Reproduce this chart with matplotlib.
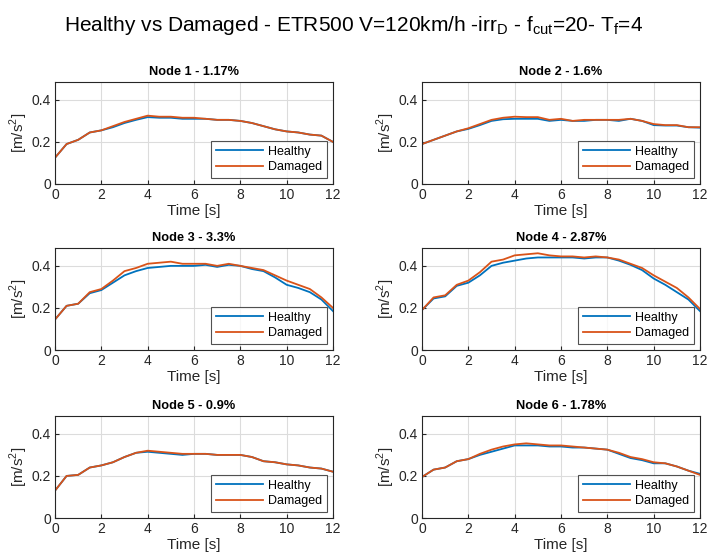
import matplotlib
matplotlib.use("Agg")
import matplotlib.pyplot as plt
import numpy as np

plt.rcParams['font.family'] = ['Liberation Sans', 'DejaVu Sans']
plt.rcParams['mathtext.fontset'] = 'custom'
plt.rcParams['mathtext.rm'] = 'Liberation Sans'

# time axis [s]
t = np.arange(0, 12.01, 0.5)

titles = ["Node 1 - 1.17%", "Node 2 - 1.6%", "Node 3 - 3.3%",
          "Node 4 - 2.87%", "Node 5 - 0.9%", "Node 6 - 1.78%"]

healthy_1 = [0.125, 0.19, 0.21, 0.245, 0.255, 0.27, 0.29, 0.305, 0.318, 0.315, 0.315, 0.31, 0.31,
             0.31, 0.305, 0.305, 0.30, 0.29, 0.275, 0.26, 0.25, 0.245, 0.235, 0.23, 0.20]
damaged_1 = [0.125, 0.19, 0.21, 0.245, 0.255, 0.275, 0.295, 0.31, 0.325, 0.32, 0.32, 0.315, 0.315,
             0.31, 0.305, 0.305, 0.30, 0.29, 0.275, 0.26, 0.25, 0.245, 0.235, 0.23, 0.20]

healthy_2 = [0.19, 0.21, 0.23, 0.25, 0.262, 0.28, 0.30, 0.308, 0.31, 0.31, 0.31, 0.30, 0.305,
             0.30, 0.30, 0.305, 0.305, 0.30, 0.31, 0.30, 0.28, 0.278, 0.278, 0.27, 0.268]
damaged_2 = [0.19, 0.21, 0.23, 0.25, 0.265, 0.285, 0.305, 0.315, 0.32, 0.318, 0.318, 0.305, 0.31,
             0.30, 0.305, 0.305, 0.305, 0.305, 0.31, 0.30, 0.285, 0.28, 0.28, 0.27, 0.27]

healthy_3 = [0.145, 0.21, 0.22, 0.27, 0.285, 0.32, 0.355, 0.375, 0.39, 0.395, 0.40, 0.40, 0.40,
             0.405, 0.395, 0.405, 0.40, 0.385, 0.375, 0.345, 0.31, 0.295, 0.275, 0.24, 0.185]
damaged_3 = [0.145, 0.21, 0.22, 0.275, 0.29, 0.33, 0.375, 0.39, 0.41, 0.415, 0.42, 0.41, 0.41,
             0.41, 0.40, 0.41, 0.40, 0.39, 0.38, 0.355, 0.33, 0.31, 0.29, 0.25, 0.20]

healthy_4 = [0.19, 0.245, 0.255, 0.305, 0.32, 0.355, 0.40, 0.415, 0.425, 0.435, 0.44, 0.44, 0.44,
             0.44, 0.435, 0.44, 0.44, 0.425, 0.405, 0.38, 0.34, 0.31, 0.275, 0.24, 0.185]
damaged_4 = [0.19, 0.25, 0.26, 0.31, 0.33, 0.37, 0.42, 0.43, 0.45, 0.455, 0.46, 0.45, 0.445,
             0.445, 0.44, 0.445, 0.44, 0.43, 0.41, 0.39, 0.355, 0.325, 0.295, 0.25, 0.195]

healthy_5 = [0.13, 0.20, 0.205, 0.24, 0.25, 0.265, 0.29, 0.31, 0.315, 0.31, 0.305, 0.30, 0.305,
             0.305, 0.30, 0.30, 0.30, 0.29, 0.27, 0.265, 0.255, 0.25, 0.24, 0.235, 0.22]
damaged_5 = [0.13, 0.20, 0.205, 0.24, 0.25, 0.265, 0.29, 0.31, 0.32, 0.315, 0.31, 0.305, 0.305,
             0.305, 0.30, 0.30, 0.30, 0.29, 0.27, 0.265, 0.255, 0.25, 0.24, 0.235, 0.22]

healthy_6 = [0.195, 0.23, 0.24, 0.27, 0.28, 0.30, 0.315, 0.33, 0.345, 0.345, 0.345, 0.34, 0.34,
             0.335, 0.335, 0.33, 0.325, 0.305, 0.285, 0.275, 0.26, 0.26, 0.245, 0.225, 0.21]
damaged_6 = [0.195, 0.23, 0.24, 0.27, 0.28, 0.305, 0.325, 0.34, 0.35, 0.355, 0.35, 0.345, 0.345,
             0.34, 0.335, 0.33, 0.325, 0.31, 0.29, 0.28, 0.265, 0.26, 0.245, 0.225, 0.205]

healthy = [healthy_1, healthy_2, healthy_3, healthy_4, healthy_5, healthy_6]
damaged = [damaged_1, damaged_2, damaged_3, damaged_4, damaged_5, damaged_6]

blue = '#0072BD'
orange = '#D95319'
dark = '#262626'

fig = plt.figure(figsize=(7.08, 5.6), dpi=100)
fig.text(0.5, 0.955,
         r"Healthy vs Damaged - ETR500 V=120km/h -irr$_\mathrm{D}$ - f$_\mathrm{cut}$=20- T$_\mathrm{f}$=4",
         ha='center', va='center', fontsize=15)

lefts = [55 / 708, 422 / 708]
bottoms = [1 - 184 / 560, 1 - 350 / 560, 1 - 518 / 560]
w = 278 / 708
h = 102 / 560

for i in range(6):
    r, c = divmod(i, 2)
    ax = fig.add_axes([lefts[c], bottoms[r], w, h])
    ax.plot(t, healthy[i], color=blue, lw=1.3, label='Healthy')
    ax.plot(t, damaged[i], color=orange, lw=1.3, label='Damaged')
    ax.set_xlim(0, 12)
    ax.set_ylim(0, 0.485)
    ax.set_xticks(np.arange(0, 13, 2))
    ax.set_yticks([0, 0.2, 0.4])
    ax.set_yticklabels(['0', '0.2', '0.4'])
    ax.grid(True, color='#dcdcdc', lw=0.8)
    ax.set_axisbelow(True)
    ax.tick_params(direction='in', length=3, colors=dark, labelsize=10, pad=3)
    for s in ax.spines.values():
        s.set_color(dark)
        s.set_linewidth(0.8)
    ax.set_title(titles[i], fontsize=9.2, fontweight='bold', pad=5)
    ax.set_xlabel('Time [s]', fontsize=11, color=dark, labelpad=1)
    ax.set_ylabel(r'[m/s$^2$]', fontsize=11, color=dark, labelpad=1)
    leg = ax.legend(loc='lower right', fontsize=9, handlelength=3.8, frameon=True,
                    fancybox=False, edgecolor=dark, borderpad=0.35, labelspacing=0.3,
                    handletextpad=0.4, borderaxespad=0.5)
    leg.get_frame().set_linewidth(0.8)

fig.savefig('out.png', dpi=100)
